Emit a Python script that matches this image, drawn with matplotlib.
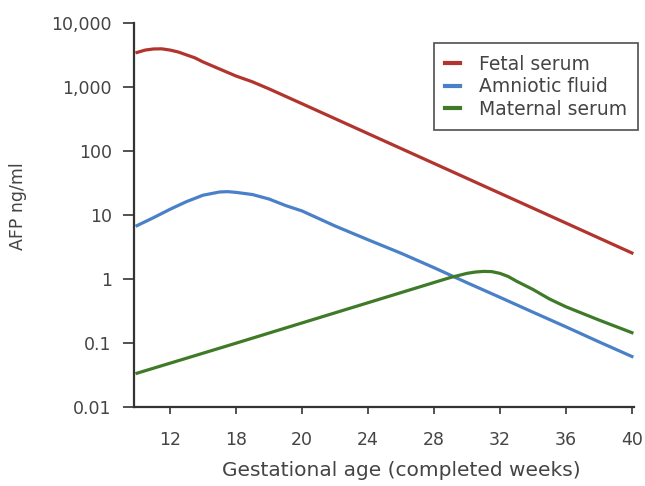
import matplotlib
matplotlib.use("Agg")
import matplotlib.pyplot as plt

# AFP concentrations (weeks, ng/ml)
fetal_weeks = [10, 10.5, 11, 11.5, 12, 12.5, 13, 13.5, 14, 15, 16, 17, 18, 20, 24, 28, 32, 36, 40]
fetal_serum = [3450, 3760, 3910, 3930, 3760, 3510, 3160, 2850, 2455, 1905, 1480, 1200, 933,
               547, 187, 64, 21.9, 7.5, 2.56]

amnio_weeks = [10, 11, 12, 13, 14, 15, 15.5, 16, 17, 18, 19, 20, 22, 24, 26, 28, 30, 32, 34, 36, 38, 40]
amniotic_fluid = [6.84, 9.1, 12.3, 16.2, 20.4, 22.9, 23.2, 22.6, 20.9, 17.8, 14.1, 11.6, 6.76,
                  4.12, 2.54, 1.51, 0.88, 0.52, 0.305, 0.18, 0.105, 0.062]

maternal_weeks = [10, 12, 16, 20, 24, 28, 29, 30, 30.5, 31, 31.5, 32, 32.5, 33, 34, 35, 36, 38, 40]
maternal_serum = [0.034, 0.0487, 0.10, 0.207, 0.428, 0.885, 1.06, 1.23, 1.29, 1.32, 1.31, 1.23,
                  1.10, 0.93, 0.69, 0.49, 0.37, 0.23, 0.146]

xtick_pos = [12, 16, 20, 24, 28, 32, 36, 40]
xtick_labels = ["12", "18", "20", "24", "28", "32", "36", "40"]
ytick_pos = [0.01, 0.1, 1, 10, 100, 1000, 10000]
ytick_labels = ["0.01", "0.1", "1", "10", "100", "1,000", "10,000"]

plt.rcParams['font.family'] = ['DejaVu Sans']
txt = "#444444"

fig = plt.figure(figsize=(6.45, 4.86), dpi=100)
ax = fig.add_axes([0.2078, 0.162, 0.775, 0.791])

ax.plot(fetal_weeks, fetal_serum, color="#b2342e", lw=2.3, label="Fetal serum")
ax.plot(amnio_weeks, amniotic_fluid, color="#4a80c8", lw=2.3, label="Amniotic fluid")
ax.plot(maternal_weeks, maternal_serum, color="#3f7a28", lw=2.3, label="Maternal serum")

ax.set_yscale("log")
ax.set_ylim(0.01, 10000)
ax.set_xlim(9.82, 40.12)
ax.set_xticks(xtick_pos)
ax.set_xticklabels(xtick_labels)
ax.set_yticks(ytick_pos)
ax.set_yticklabels(ytick_labels)
ax.minorticks_off()

for s in ["top", "right"]:
    ax.spines[s].set_visible(False)
for s in ["left", "bottom"]:
    ax.spines[s].set_color("#333333")
    ax.spines[s].set_linewidth(1.6)
ax.tick_params(direction="out", width=1.2, color="#333333", labelsize=12.5, labelcolor=txt)
ax.tick_params(axis="y", length=8, pad=8)
ax.tick_params(axis="x", length=5, pad=12)

ax.set_xlabel("Gestational age (completed weeks)", fontsize=14.5, color=txt)
ax.xaxis.set_label_coords(0.535, -0.14)
ax.set_ylabel("AFP ng/ml", fontsize=12.5, color=txt)
ax.yaxis.set_label_coords(-0.215, 0.523)

leg = ax.legend(loc="upper left", bbox_to_anchor=(0.673, 0.911), bbox_transform=fig.transFigure,
                fontsize=13.5, frameon=True, fancybox=False, handlelength=0.8,
                handletextpad=1.0, borderpad=0.6, labelspacing=0.2, borderaxespad=0)
leg.get_frame().set_edgecolor("#222222")
leg.get_frame().set_linewidth(1.2)
for t in leg.get_texts():
    t.set_color(txt)
for h in leg.get_lines():
    h.set_linewidth(3)

fig.savefig("out.png", dpi=100)
